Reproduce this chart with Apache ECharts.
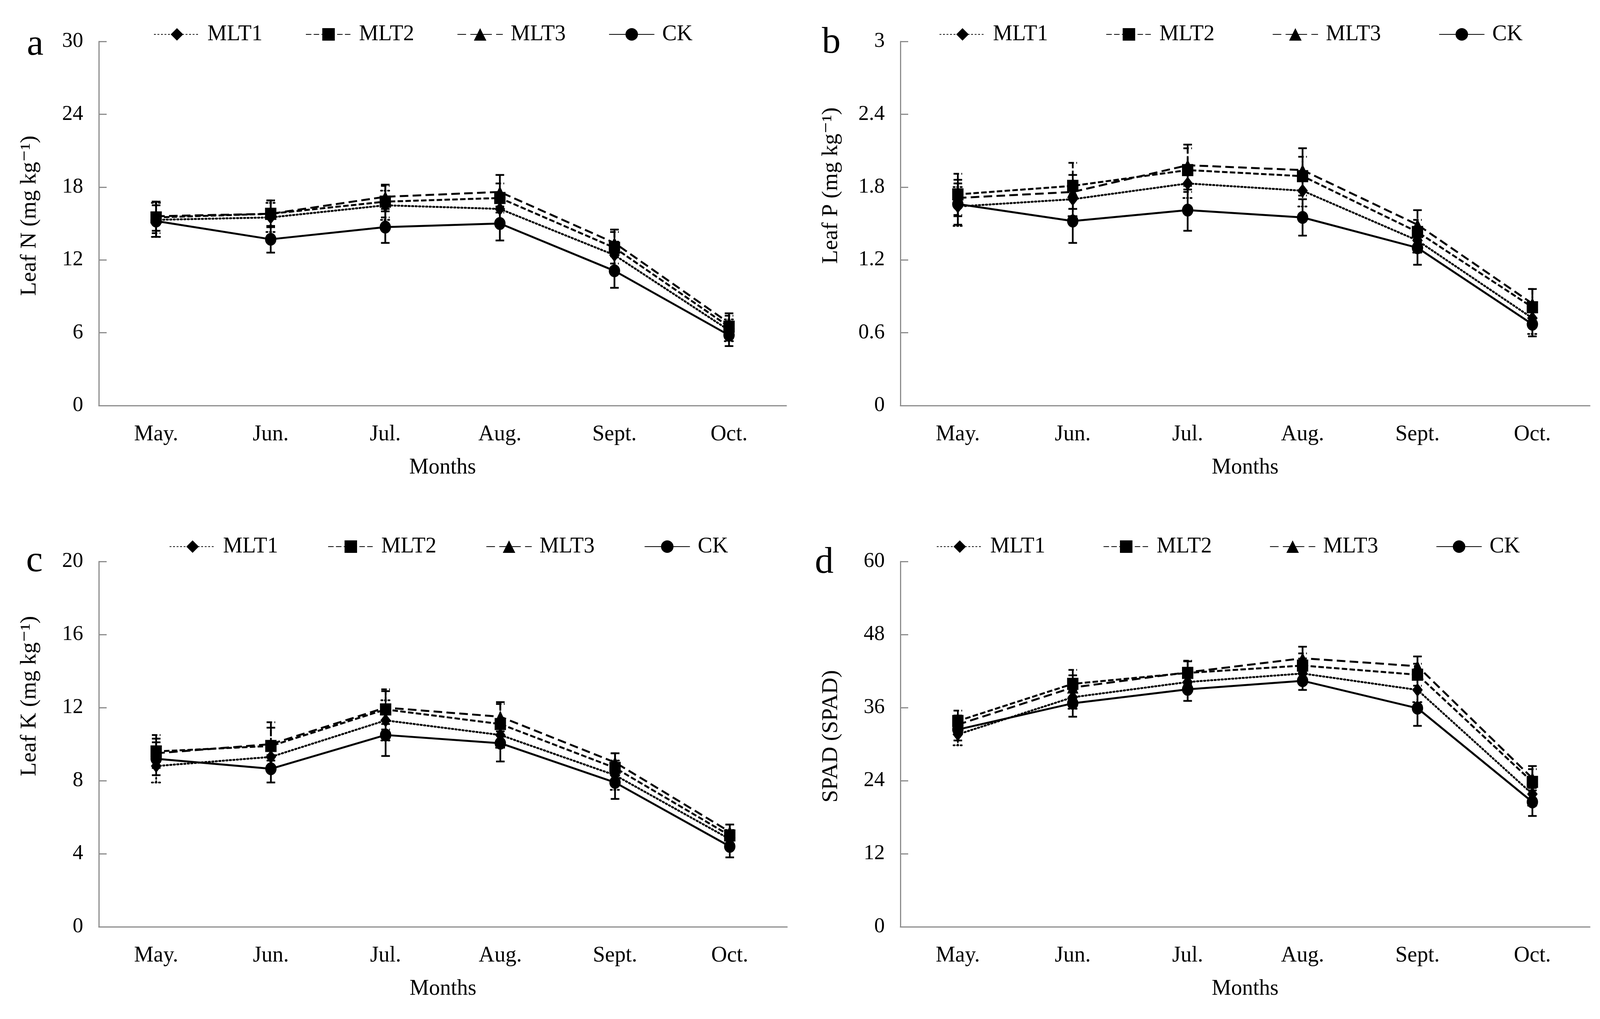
<!DOCTYPE html>
<html>
<head>
<meta charset="utf-8">
<script src="https://cdn.jsdelivr.net/npm/echarts@6/dist/echarts.min.js"></script>
<style>
html,body{margin:0;padding:0;background:#fff;}
#chart{width:4118px;height:2608px;}
</style>
</head>
<body>
<div id="chart"></div>
<script>
// ---- categories / legend ----
const months = ['May.', 'Jun.', 'Jul.', 'Aug.', 'Sept.', 'Oct.'];
const seriesNames = ['MLT1', 'MLT2', 'MLT3', 'CK'];

// ---- panel a: Leaf N ----
const nMLT1 = [15.3, 15.5, 16.5, 16.2, 12.4, 6.2];
const nMLT2 = [15.5, 15.8, 16.8, 17.1, 13.0, 6.5];
const nMLT3 = [15.6, 15.8, 17.2, 17.6, 13.4, 6.8];
const nCK   = [15.2, 13.7, 14.7, 15.0, 11.1, 5.8];
const nMLT1Err = [1.4, 1.2, 1.2, 1.3, 1.1, 0.9];
const nMLT2Err = [1.3, 1.1, 1.3, 1.2, 1.3, 0.9];
const nMLT3Err = [1.2, 1.1, 1.0, 1.4, 1.1, 0.8];
const nCKErr   = [1.3, 1.1, 1.3, 1.4, 1.4, 0.9];

// ---- panel b: Leaf P ----
const pMLT1 = [1.64, 1.70, 1.83, 1.77, 1.36, 0.72];
const pMLT2 = [1.74, 1.81, 1.94, 1.89, 1.43, 0.81];
const pMLT3 = [1.71, 1.76, 1.98, 1.94, 1.49, 0.84];
const pCK   = [1.66, 1.52, 1.61, 1.55, 1.30, 0.67];
const pMLT1Err = [0.16, 0.14, 0.12, 0.13, 0.10, 0.13];
const pMLT2Err = [0.17, 0.19, 0.18, 0.16, 0.10, 0.15];
const pMLT3Err = [0.15, 0.14, 0.17, 0.18, 0.12, 0.12];
const pCKErr   = [0.17, 0.18, 0.17, 0.15, 0.14, 0.10];

// ---- panel c: Leaf K ----
const kMLT1 = [8.8, 9.3, 11.3, 10.5, 8.3, 4.8];
const kMLT2 = [9.6, 9.9, 11.9, 11.1, 8.7, 5.0];
const kMLT3 = [9.5, 10.0, 12.0, 11.5, 9.0, 5.2];
const kCK   = [9.2, 8.65, 10.5, 10.05, 7.9, 4.4];
const kMLT1Err = [0.9, 0.6, 1.1, 0.7, 0.8, 0.5];
const kMLT2Err = [0.9, 1.3, 1.1, 1.1, 0.8, 0.6];
const kMLT3Err = [0.8, 0.9, 0.9, 0.8, 0.5, 0.4];
const kCKErr   = [0.9, 0.75, 1.15, 1.0, 0.9, 0.6];

// ---- panel d: SPAD ----
const sMLT1 = [31.6, 37.7, 40.2, 41.6, 38.9, 21.8];
const sMLT2 = [33.8, 39.9, 41.7, 42.9, 41.4, 23.8];
const sMLT3 = [33.2, 39.3, 41.8, 44.1, 42.8, 24.4];
const sCK   = [32.4, 36.7, 39.0, 40.4, 35.9, 20.5];
const sMLT1Err = [1.8, 1.9, 1.6, 1.4, 2.0, 1.9];
const sMLT2Err = [1.7, 2.3, 2.0, 2.0, 1.8, 2.1];
const sMLT3Err = [1.5, 2.0, 1.8, 1.9, 1.6, 2.0];
const sCKErr   = [1.8, 2.2, 1.9, 1.5, 2.9, 2.3];

// ---- y axis ticks per panel ----
const yMaxes = [30, 3, 20, 60];
const yIntervals = [6, 0.6, 4, 12];
const yNames = ['Leaf N (mg kg\u207B\u00B9)', 'Leaf P (mg kg\u207B\u00B9)', 'Leaf K (mg kg\u207B\u00B9)', 'SPAD (SPAD)'];
const panelLetters = ['a', 'b', 'c', 'd'];

const panelValues = [
  [nMLT1, nMLT2, nMLT3, nCK],
  [pMLT1, pMLT2, pMLT3, pCK],
  [kMLT1, kMLT2, kMLT3, kCK],
  [sMLT1, sMLT2, sMLT3, sCK]
];
const panelErrors = [
  [nMLT1Err, nMLT2Err, nMLT3Err, nCKErr],
  [pMLT1Err, pMLT2Err, pMLT3Err, pCKErr],
  [kMLT1Err, kMLT2Err, kMLT3Err, kCKErr],
  [sMLT1Err, sMLT2Err, sMLT3Err, sCKErr]
];

// ---- styling ----
const FONT = "'Liberation Serif', 'Times New Roman', 'DejaVu Serif', serif";
const AXIS_COLOR = '#8c8c8c';
const styles = [
  {symbol: 'diamond', size: [27, 35], dash: [3, 6], cap: 'round'},
  {symbol: 'rect', size: [29, 31], dash: [14, 6], cap: 'butt'},
  {symbol: 'triangle', size: [29, 31], dash: [22, 11], cap: 'butt'},
  {symbol: 'circle', size: [29, 33], dash: 'solid', cap: 'butt'}
];

const grids = [
  {left: 253, top: 106, width: 1760, height: 932},
  {left: 2305, top: 106, width: 1765, height: 932},
  {left: 253, top: 1437, width: 1762, height: 935},
  {left: 2305, top: 1437, width: 1765, height: 935}
];
const legendPos = [
  {left: 389, top: 55, gap: 110},
  {left: 2400, top: 55, gap: 148},
  {left: 429, top: 1366, gap: 127},
  {left: 2393, top: 1366, gap: 148}
];
const yNamePad = [40, 194, 246, 40];
const letterPos = [[90, 163], [2128, 158], [88, 1485], [2110, 1489]];

const xAxes = [], yAxes = [], series = [], legends = [], graphics = [];

for (let p = 0; p < 4; p++) {
  xAxes.push({
    type: 'category', gridIndex: p, data: months, boundaryGap: true,
    name: 'Months', nameLocation: 'middle', nameGap: 131,
    nameTextStyle: {fontFamily: FONT, fontSize: 56, color: '#000'},
    axisLine: {lineStyle: {color: AXIS_COLOR, width: 3}},
    axisTick: {inside: true, length: 20, lineStyle: {color: AXIS_COLOR, width: 3}},
    axisLabel: {fontFamily: FONT, fontSize: 56, color: '#000', margin: 46},
    splitLine: {show: false}
  });
  yAxes.push({
    type: 'value', gridIndex: p, min: 0, max: yMaxes[p], interval: yIntervals[p],
    name: yNames[p], nameLocation: 'middle', nameGap: 148, nameRotate: 90,
    nameTextStyle: {fontFamily: FONT, fontSize: 58, color: '#000', padding: [0, 0, 0, yNamePad[p]]},
    axisLine: {show: true, lineStyle: {color: AXIS_COLOR, width: 3}},
    axisTick: {show: true, inside: true, length: 20, lineStyle: {color: AXIS_COLOR, width: 3}},
    axisLabel: {fontFamily: FONT, fontSize: 54, color: '#000', margin: 40},
    splitLine: {show: false}
  });
  legends.push({
    left: legendPos[p].left, top: legendPos[p].top, orient: 'horizontal',
    itemWidth: 116, itemHeight: 40, itemGap: legendPos[p].gap,
    selectedMode: false,
    data: seriesNames,
    textStyle: {fontFamily: FONT, fontSize: 56, color: '#000', padding: [0, 0, 0, 15]}
  });
  graphics.push({
    type: 'text', x: letterPos[p][0], y: letterPos[p][1],
    style: {text: panelLetters[p], font: '96px ' + FONT, fill: '#000', textAlign: 'center', textVerticalAlign: 'bottom'}
  });

  for (let s = 0; s < 4; s++) {
    const st = styles[s];
    series.push({
      type: 'line', name: seriesNames[s], xAxisIndex: p, yAxisIndex: p,
      data: panelValues[p][s],
      symbol: st.symbol, symbolSize: st.size, showAllSymbol: true,
      lineStyle: {color: '#000', width: 5, type: st.dash, cap: st.cap},
      itemStyle: {color: '#000'},
      z: 3, animation: false
    });
  }
  for (let s = 0; s < 4; s++) {
    const st = styles[s];
    const vals = panelValues[p][s], errs = panelErrors[p][s];
    const data = vals.map((v, i) => [i, v, errs[i]]);
    const dash = st.dash === 'solid' ? null : st.dash;
    series.push({
      type: 'custom', name: seriesNames[s] + ' error', xAxisIndex: p, yAxisIndex: p,
      data: data, encode: {x: 0, y: 1}, z: 2, animation: false, silent: true,
      renderItem: function (params, api) {
        const x = api.value(0), y = api.value(1), e = api.value(2);
        const top = api.coord([x, y + e]);
        const bot = api.coord([x, y - e]);
        const cw = 11;
        const style = {stroke: '#000', lineWidth: 4.5, lineDash: dash, lineCap: st.cap};
        return {
          type: 'group',
          children: [
            {type: 'line', shape: {x1: top[0], y1: top[1], x2: bot[0], y2: bot[1]}, style: style},
            {type: 'line', shape: {x1: top[0] - cw, y1: top[1], x2: top[0] + cw, y2: top[1]}, style: style},
            {type: 'line', shape: {x1: bot[0] - cw, y1: bot[1], x2: bot[0] + cw, y2: bot[1]}, style: style}
          ]
        };
      }
    });
  }
}

const chart = echarts.init(document.getElementById('chart'), null, {renderer: 'canvas'});
chart.setOption({
  backgroundColor: '#fff',
  animation: false,
  textStyle: {fontFamily: FONT},
  grid: grids,
  xAxis: xAxes,
  yAxis: yAxes,
  legend: legends,
  graphic: graphics,
  series: series
});
</script>
</body>
</html>
